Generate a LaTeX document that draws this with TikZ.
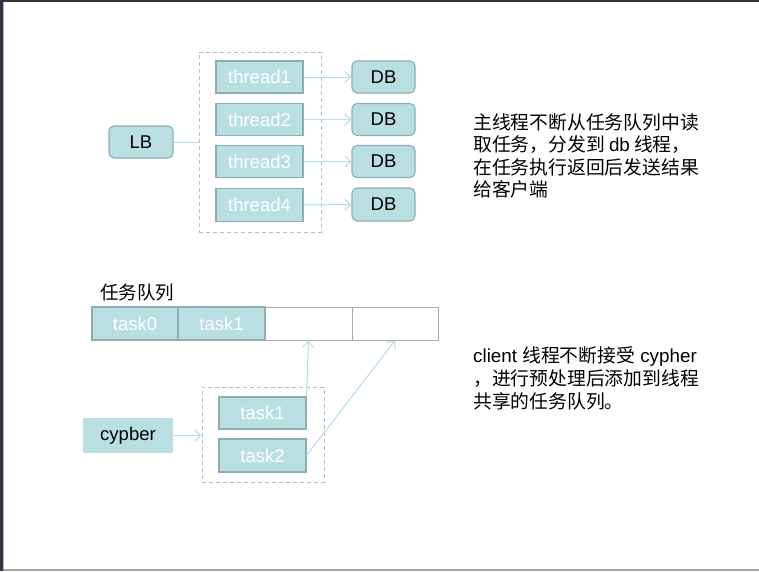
\documentclass[tikz,border=0pt]{standalone}
\usepackage{fontspec}
\setmainfont{Liberation Sans}
\newfontfamily\cjk{Noto Sans CJK SC}
\usetikzlibrary{arrows.meta}
\definecolor{tealfill}{HTML}{B9DFE2}
\definecolor{tealedge}{HTML}{8DAEB1}
\definecolor{arrowc}{HTML}{B3DDE1}
\definecolor{dashc}{HTML}{BDBDBD}
\definecolor{framedark}{HTML}{2E3440}
\begin{document}
\begin{tikzpicture}[x=1pt,y=-1pt,
  box/.style={draw=tealedge,fill=tealfill,line width=1.1pt,inner sep=0pt,
    font=\fontsize{18.5}{21}\selectfont},
  whitebox/.style={box,text=white},
  rbox/.style={box,rounded corners=5pt,text=black},
  grpbox/.style={draw=dashc,dashed,dash pattern=on 4pt off 3pt,line width=1pt,inner sep=0pt},
  conn/.style={draw=arrowc,line width=1pt},
  arr/.style={conn,-{Straight Barb[length=6pt,width=11pt,line width=1pt]}},
  emptycell/.style={draw=dashc!90!black,line width=1pt,inner sep=0pt},
  note/.style={anchor=west,inner sep=0pt,font=\fontsize{18.8}{22}\selectfont}
]
\useasboundingbox (0,0) rectangle (759,571);
\fill[white] (0,0) rectangle (759,571);
% frame
\fill[framedark] (0,0) rectangle (3,571);
\fill[framedark] (0,0) rectangle (759,2);
\draw[gray!60,line width=1pt] (3.5,2) -- (3.5,571);
\fill[gray!70] (3,569) rectangle (759,571);

% upper part
\node[grpbox,minimum width=122pt,minimum height=180pt] (grp1) at (260,142) {};
\node[whitebox,minimum width=87pt,minimum height=32pt] (t1) at (259.5,77) {thread1};
\node[whitebox,minimum width=87pt,minimum height=32pt] (t2) at (259.5,119.5) {thread2};
\node[whitebox,minimum width=87pt,minimum height=32pt] (t3) at (259.5,161.5) {thread3};
\node[whitebox,minimum width=87pt,minimum height=33pt] (t4) at (259.5,205) {thread4};
\node[rbox,minimum width=63pt,minimum height=32pt] (d1) at (383.5,77) {DB};
\node[rbox,minimum width=63pt,minimum height=32pt] (d2) at (383.5,119.5) {DB};
\node[rbox,minimum width=63pt,minimum height=32pt] (d3) at (383.5,161.5) {DB};
\node[rbox,minimum width=63pt,minimum height=33pt] (d4) at (383.5,204.5) {DB};
\node[rbox,minimum width=64pt,minimum height=32pt] (lb) at (141,142) {LB};
\draw[conn] (lb.east) -- (lb.east -| grp1.west);
\foreach \i in {1,2,3,4}{\draw[arr] (t\i.east) -- (d\i.west);}

% queue
\node[anchor=west,inner sep=0pt,font=\cjk\fontsize{18.5}{20}\selectfont] (qlab) at (100,292) {任务队列};
\node[whitebox,minimum width=86pt,minimum height=33pt] (q0) at (135,323.5) {task0};
\node[whitebox,minimum width=87pt,minimum height=33pt] (q1) at (221.5,323.5) {task1};
\node[emptycell,minimum width=87pt,minimum height=33pt] (q2) at (308.5,323.5) {};
\node[emptycell,minimum width=86pt,minimum height=33pt] (q3) at (395,323.5) {};

% lower part
\node[grpbox,minimum width=122pt,minimum height=95pt] (grp2) at (263,434.5) {};
\node[whitebox,minimum width=87pt,minimum height=32pt] (k1) at (262.5,413) {task1};
\node[whitebox,minimum width=87pt,minimum height=33pt] (k2) at (262.5,455.5) {task2};
\node[box,draw=none,text=black,minimum width=90pt,minimum height=35pt] (cy) at (128,435.5) {cypber};
\draw[arr] (cy.east) -- (cy.east -| grp2.west);
\draw[arr] (k1.north east) -- (q2.south);
\draw[arr] (k2.east) -- (q3.south);

% notes
\node[note] (n1) at (473,122) {\cjk 主线程不断从任务队列中读};
\node[note] (n2) at (473,145) {\cjk 取任务，分发到 {\rmfamily db} 线程，};
\node[note] (n3) at (473,167) {\cjk 在任务执行返回后发送结果};
\node[note] (n4) at (473,189) {\cjk 给客户端};
\node[note] (m1) at (473,357) {client {\cjk 线程不断接受} cypher};
\node[note] (m2) at (473,379) {\cjk ，进行预处理后添加到线程};
\node[note] (m3) at (473,401) {\cjk 共享的任务队列。};
\end{tikzpicture}
\end{document}
